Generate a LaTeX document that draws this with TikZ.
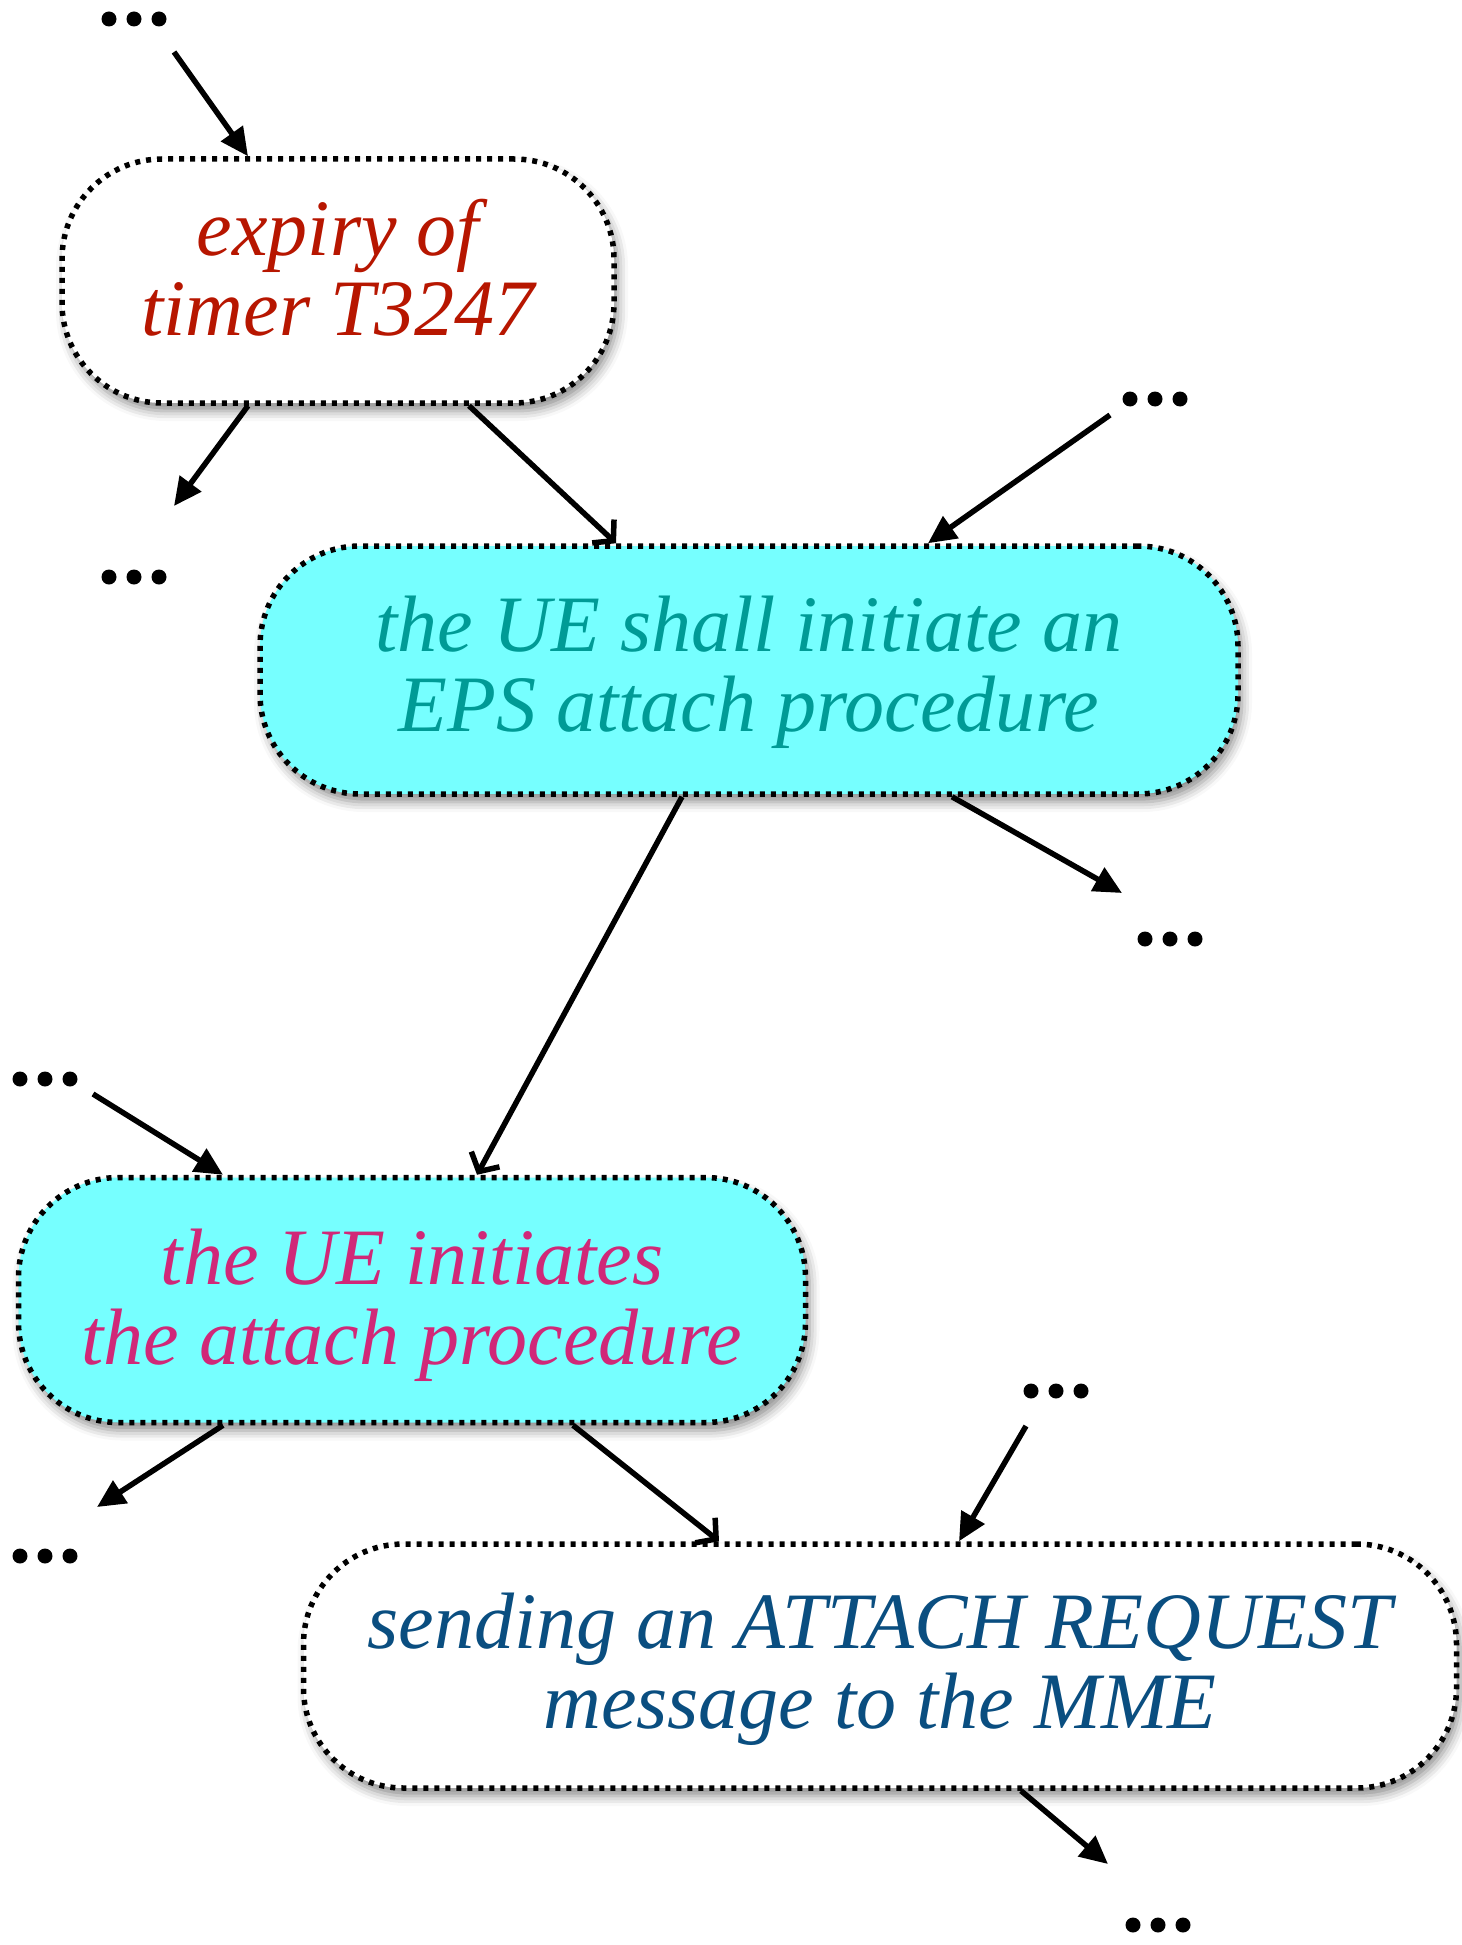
\documentclass[tikz,border=0pt]{standalone}
\usepackage{fontspec}
\setmainfont{Liberation Serif}
\usetikzlibrary{arrows.meta,calc,shadows.blur}
\definecolor{cred}{RGB}{183,22,0}
\definecolor{cteal}{RGB}{0,155,150}
\definecolor{cmag}{RGB}{208,40,120}
\definecolor{cblue}{RGB}{10,78,128}
\definecolor{ccyan}{RGB}{118,255,255}
\newcommand{\twolines}[3]{\raisebox{#1}[\height][\depth]{\begin{tabular}{@{}c@{}}#2\\#3\end{tabular}}}
\tikzset{
  box/.style={draw=black, line width=5.5pt, dash pattern=on 5pt off 6pt,
    rounded corners=100pt, inner sep=0pt, align=center,
    font=\fontsize{80pt}{80pt}\selectfont\itshape,
    blur shadow={shadow xshift=4pt, shadow yshift=-8pt, shadow blur radius=10pt, shadow opacity=45}},
  dotsnode/.style={minimum width=66pt, minimum height=16pt, inner sep=0pt,
    path picture={\foreach \i in {-1,0,1}{\fill ([xshift=\i*25pt]path picture bounding box.center) circle[radius=7.5pt];}}},
  farrow/.style={line width=5.5pt, -{Triangle[length=28pt,width=26pt]}},
  oarrow/.style={line width=5.5pt, -{Straight Barb[length=14pt,width=32pt,line width=5.5pt]}}
}
\begin{document}
\begin{tikzpicture}[x=1pt,y=-1pt]
\useasboundingbox (0,0) rectangle (1461,1945);
% nodes
\node[box, fill=white, text=cred, minimum width=552pt, minimum height=244pt] (n1) at (338,281) {\twolines{2pt}{expiry of}{timer T3247}};
\node[box, fill=ccyan, text=cteal, minimum width=978pt, minimum height=248pt] (n2) at (749,670) {\twolines{-5pt}{the UE shall initiate an}{EPS attach procedure}};
\node[box, fill=ccyan, text=cmag, minimum width=787pt, minimum height=245pt] (n3) at (412,1300) {\twolines{-8pt}{the UE initiates}{the attach procedure}};
\node[box, fill=white, text=cblue, minimum width=1153pt, minimum height=244pt] (n4) at (880,1666) {\twolines{-6pt}{sending an ATTACH REQUEST}{message to the MME}};
% dots
\node[dotsnode] (d1) at (134,19) {};
\node[dotsnode] (d2) at (134,577) {};
\node[dotsnode] (d3) at (1155,399) {};
\node[dotsnode] (d4) at (1170,939) {};
\node[dotsnode] (d5) at (45,1079) {};
\node[dotsnode] (d6) at (45,1556) {};
\node[dotsnode] (d7) at (1056,1391) {};
\node[dotsnode] (d8) at (1158,1925) {};
% free ends
\coordinate (c1) at ($(d1)+(40,33)$);
\coordinate (c2) at ($(d2)+(40,-71)$);
\coordinate (c3) at ($(d3)+(-45,16)$);
\coordinate (c4) at ($(d4)+(-48,-46)$);
\coordinate (c5) at ($(d5)+(48,15)$);
\coordinate (c6) at ($(d6)+(52,-49)$);
\coordinate (c7) at ($(d7)+(-30,35)$);
\coordinate (c8) at ($(d8)+(-50,-61)$);
% connectors
\draw[farrow] (c1) -- ([xshift=-90pt]n1.north);
\draw[farrow] ([xshift=-90pt]n1.south) -- (c2);
\draw[oarrow] ([xshift=131pt]n1.south) -- ([xshift=-133pt]n2.north);
\draw[farrow] (c3) -- ([xshift=179pt]n2.north);
\draw[farrow] ([xshift=203pt]n2.south) -- (c4);
\draw[oarrow] ([xshift=-67pt]n2.south) -- ([xshift=65pt]n3.north);
\draw[farrow] (c5) -- ([xshift=-189pt]n3.north);
\draw[farrow] ([xshift=-189pt]n3.south) -- (c6);
\draw[oarrow] ([xshift=161pt]n3.south) -- ([xshift=-161pt]n4.north);
\draw[farrow] (c7) -- ([xshift=79pt]n4.north);
\draw[farrow] ([xshift=141pt]n4.south) -- (c8);
\end{tikzpicture}
\end{document}
